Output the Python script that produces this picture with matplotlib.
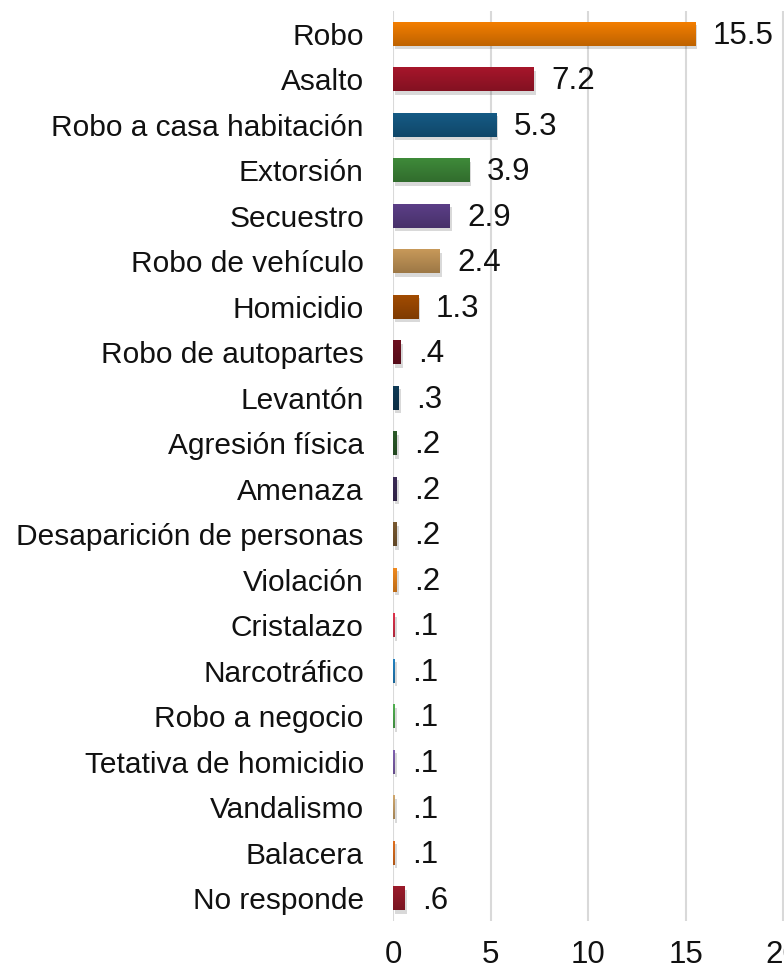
import matplotlib
matplotlib.use("Agg")
import matplotlib.pyplot as plt
import matplotlib.colors as mcolors
import matplotlib.patheffects as pe
import numpy as np

# data
delitos = ["Robo", "Asalto", "Robo a casa habitación", "Extorsión", "Secuestro",
           "Robo de vehículo", "Homicidio", "Robo de autopartes", "Levantón",
           "Agresión física", "Amenaza", "Desaparición de personas", "Violación",
           "Cristalazo", "Narcotráfico", "Robo a negocio", "Tetativa de homicidio",
           "Vandalismo", "Balacera", "No responde"]
porcentaje = [15.5, 7.2, 5.3, 3.9, 2.9, 2.4, 1.3, 0.4, 0.3, 0.2, 0.2, 0.2, 0.2,
              0.1, 0.1, 0.1, 0.1, 0.1, 0.1, 0.6]
etiquetas = ["15.5", "7.2", "5.3", "3.9", "2.9", "2.4", "1.3", ".4", ".3", ".2",
             ".2", ".2", ".2", ".1", ".1", ".1", ".1", ".1", ".1", ".6"]
colores = ["#F57F00", "#A8162B", "#155B86", "#3F8B3A", "#5C3F88", "#C99A5A",
           "#A34C02", "#6E1020", "#0F3B57", "#2C5C29", "#3C2B57", "#7B5A31",
           "#F28A1E", "#E0324C", "#2283C3", "#52B252", "#8262B2", "#D2A96F",
           "#E2701E", "#9C1B2B"]

plt.rcParams["font.family"] = ["Liberation Sans", "DejaVu Sans"]

fig = plt.figure(figsize=(7.84, 9.71), dpi=100)
ax = fig.add_axes([0.5013, 0.0515, 0.4987, 0.9373])

y = np.arange(len(delitos))
bars = ax.barh(y, porcentaje, height=0.53, color=colores, zorder=3)

# gradient + soft shadow on each bar
for b, c in zip(bars, colores):
    b.set_path_effects([pe.SimplePatchShadow(offset=(1.5, -2.5), shadow_rgbFace="#000000", alpha=0.15),
                        pe.Normal()])
    rgb = np.array(mcolors.to_rgb(c))
    grad = np.linspace(1.0, 0.78, 32)[:, None, None] * rgb[None, None, :]
    x0, y0 = b.get_x(), b.get_y()
    w, h = b.get_width(), b.get_height()
    im = ax.imshow(grad, extent=(x0, x0 + w, y0 + h, y0), aspect="auto", zorder=4,
                   interpolation="bilinear")
    im.set_clip_path(b)

for yi, v, t in zip(y, porcentaje, etiquetas):
    ax.text(v + 0.9, yi + 0.05, t, va="center", ha="left", fontsize=22.5, color="#111111")

ax.set_xlim(0, 20.05)
ax.set_ylim(len(delitos) - 0.5, -0.5)
ax.set_xticks([0, 5, 10, 15, 20])
ax.set_xticklabels(["0", "5", "10", "15", "20"], fontsize=22.5)
ax.set_yticks(y)
ax.set_yticklabels(delitos, fontsize=21.5)
ax.tick_params(axis="y", length=0, pad=21, colors="#111111")
ax.tick_params(axis="x", length=0, pad=14, colors="#111111")
ax.grid(axis="x", color="#D9D9D9", linewidth=1.5, zorder=0)
for s in ax.spines.values():
    s.set_visible(False)

fig.savefig("out.png", dpi=100)
